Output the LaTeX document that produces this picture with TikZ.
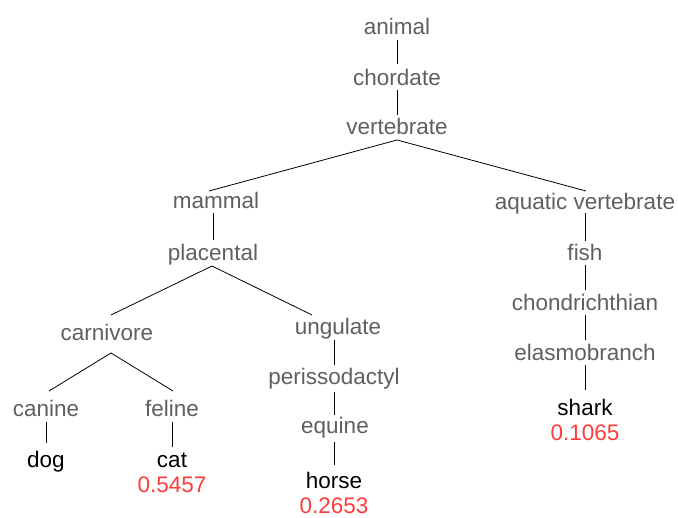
\documentclass[tikz,border=0pt]{standalone}
\usepackage{fontspec}
\setmainfont{Liberation Sans}
\definecolor{innertext}{RGB}{95,95,95}
\definecolor{scoretext}{RGB}{255,60,60}
\begin{document}
\begin{tikzpicture}[x=1pt,y=-1pt,
  every node/.style={inner sep=0pt, anchor=base, font=\fontsize{22.5}{27}\selectfont},
  cls/.style={text=innertext},
  leaf/.style={text=black},
  val/.style={text=scoretext},
  edge/.style={draw=black, line width=0.8pt}]
\useasboundingbox (0,0) rectangle (678,518);
% nodes
\node[cls] (animal) at (397,35) {animal};
\node[cls] (chordate) at (397,86) {chordate};
\node[cls] (vertebrate) at (397,135) {vertebrate};
\node[cls] (mammal) at (216,209) {mammal};
\node[cls] (aquatic) at (585,210) {aquatic vertebrate};
\node[cls] (placental) at (213,261) {placental};
\node[cls] (fish) at (585,261) {fish};
\node[cls] (chond) at (585,311) {chondrichthian};
\node[cls] (elasmo) at (585,361) {elasmobranch};
\node[leaf] (shark) at (585,416) {shark};
\node[val] (sharkv) at (585,441) {0.1065};
\node[cls] (carnivore) at (107,341) {carnivore};
\node[cls] (ungulate) at (338,335) {ungulate};
\node[cls] (periss) at (334,385) {perissodactyl};
\node[cls] (equine) at (335,434) {equine};
\node[leaf] (horse) at (334,489) {horse};
\node[val] (horsev) at (334,514) {0.2653};
\node[cls] (canine) at (46,417) {canine};
\node[cls] (feline) at (172,417) {feline};
\node[leaf] (dog) at (46,468) {dog};
\node[leaf] (cat) at (172,468) {cat};
\node[val] (catv) at (172,493) {0.5457};
% connector end points
\coordinate (animal-b) at (397,40);
\coordinate (chordate-t) at (397,64);
\coordinate (chordate-b) at (397,90);
\coordinate (vertebrate-t) at (397,115);
\coordinate (vertebrate-b) at (397,140);
\coordinate (mammal-t) at (209,191);
\coordinate (aquatic-t) at (586,191);
\coordinate (mammal-b) at (213,213);
\coordinate (placental-t) at (213,240);
\coordinate (placental-b) at (212,266);
\coordinate (carnivore-t) at (111,315);
\coordinate (ungulate-t) at (312,315);
\coordinate (carnivore-b) at (111,353);
\coordinate (canine-t) at (49,391);
\coordinate (feline-t) at (173,391);
\coordinate (canine-b) at (46,422);
\coordinate (dog-t) at (46,443);
\coordinate (feline-b) at (172,422);
\coordinate (cat-t) at (172,447);
\coordinate (ungulate-b) at (334,340);
\coordinate (periss-t) at (334,365);
\coordinate (periss-b) at (334,392);
\coordinate (equine-t) at (334,415);
\coordinate (equine-b) at (334,442);
\coordinate (horse-t) at (334,465);
\coordinate (aquatic-b) at (585,213);
\coordinate (fish-t) at (585,241);
\coordinate (fish-b) at (585,265);
\coordinate (chond-t) at (585,290);
\coordinate (chond-b) at (585,315);
\coordinate (elasmo-t) at (585,340);
\coordinate (elasmo-b) at (585,365);
\coordinate (shark-t) at (585,390);
% connectors
\draw[edge] (animal-b) -- (chordate-t);
\draw[edge] (chordate-b) -- (vertebrate-t);
\draw[edge] (mammal-t) -- (vertebrate-b) -- (aquatic-t);
\draw[edge] (mammal-b) -- (placental-t);
\draw[edge] (carnivore-t) -- (placental-b) -- (ungulate-t);
\draw[edge] (canine-t) -- (carnivore-b) -- (feline-t);
\draw[edge] (canine-b) -- (dog-t);
\draw[edge] (feline-b) -- (cat-t);
\draw[edge] (ungulate-b) -- (periss-t);
\draw[edge] (periss-b) -- (equine-t);
\draw[edge] (equine-b) -- (horse-t);
\draw[edge] (aquatic-b) -- (fish-t);
\draw[edge] (fish-b) -- (chond-t);
\draw[edge] (chond-b) -- (elasmo-t);
\draw[edge] (elasmo-b) -- (shark-t);
\end{tikzpicture}
\end{document}
